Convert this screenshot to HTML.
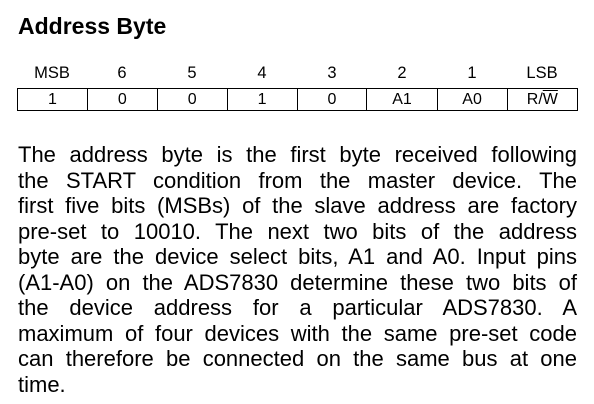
<!DOCTYPE html>
<html><head><style>
body{margin:0;width:594px;height:404px;background:#fff;font-family:"Liberation Sans",Arial,sans-serif;color:#000;position:relative;overflow:hidden}
.t{position:absolute;left:18px;top:13px;font-weight:bold;font-size:23px}
.h{position:absolute;top:64px;font-size:16.5px;width:70px;text-align:center}
table{position:absolute;left:17px;top:88px;border-collapse:collapse;width:561px}
td{border:1px solid #000;height:21px;padding:0;text-align:center;font-size:16px;width:70px}
.p{position:absolute;left:18px;width:559px;top:142px;font-size:22px;line-height:25.5px}
.p div{text-align:justify;text-align-last:justify;white-space:nowrap;height:25.5px}
.p div.j{white-space:normal}
</style></head><body>
<div class="t">Address Byte</div>
<div class="h" style="left:17px">MSB</div>
<div class="h" style="left:87px">6</div>
<div class="h" style="left:157px">5</div>
<div class="h" style="left:227px">4</div>
<div class="h" style="left:297px">3</div>
<div class="h" style="left:367px">2</div>
<div class="h" style="left:437px">1</div>
<div class="h" style="left:507px">LSB</div>
<table><tr><td>1</td><td>0</td><td>0</td><td>1</td><td>0</td><td>A1</td><td>A0</td><td>R/<span style="text-decoration:overline">W</span></td></tr></table>
<div class="p">
<div class="j">The address byte is the first byte received following</div>
<div class="j">the START condition from the master device. The</div>
<div class="j">first five bits (MSBs) of the slave address are factory</div>
<div class="j">pre-set to 10010. The next two bits of the address</div>
<div class="j">byte are the device select bits, A1 and A0. Input pins</div>
<div class="j">(A1-A0) on the ADS7830 determine these two bits of</div>
<div class="j">the device address for a particular ADS7830. A</div>
<div class="j">maximum of four devices with the same pre-set code</div>
<div class="j">can therefore be connected on the same bus at one</div>
<div style="text-align:left;text-align-last:left">time.</div>
</div>
</body></html>
